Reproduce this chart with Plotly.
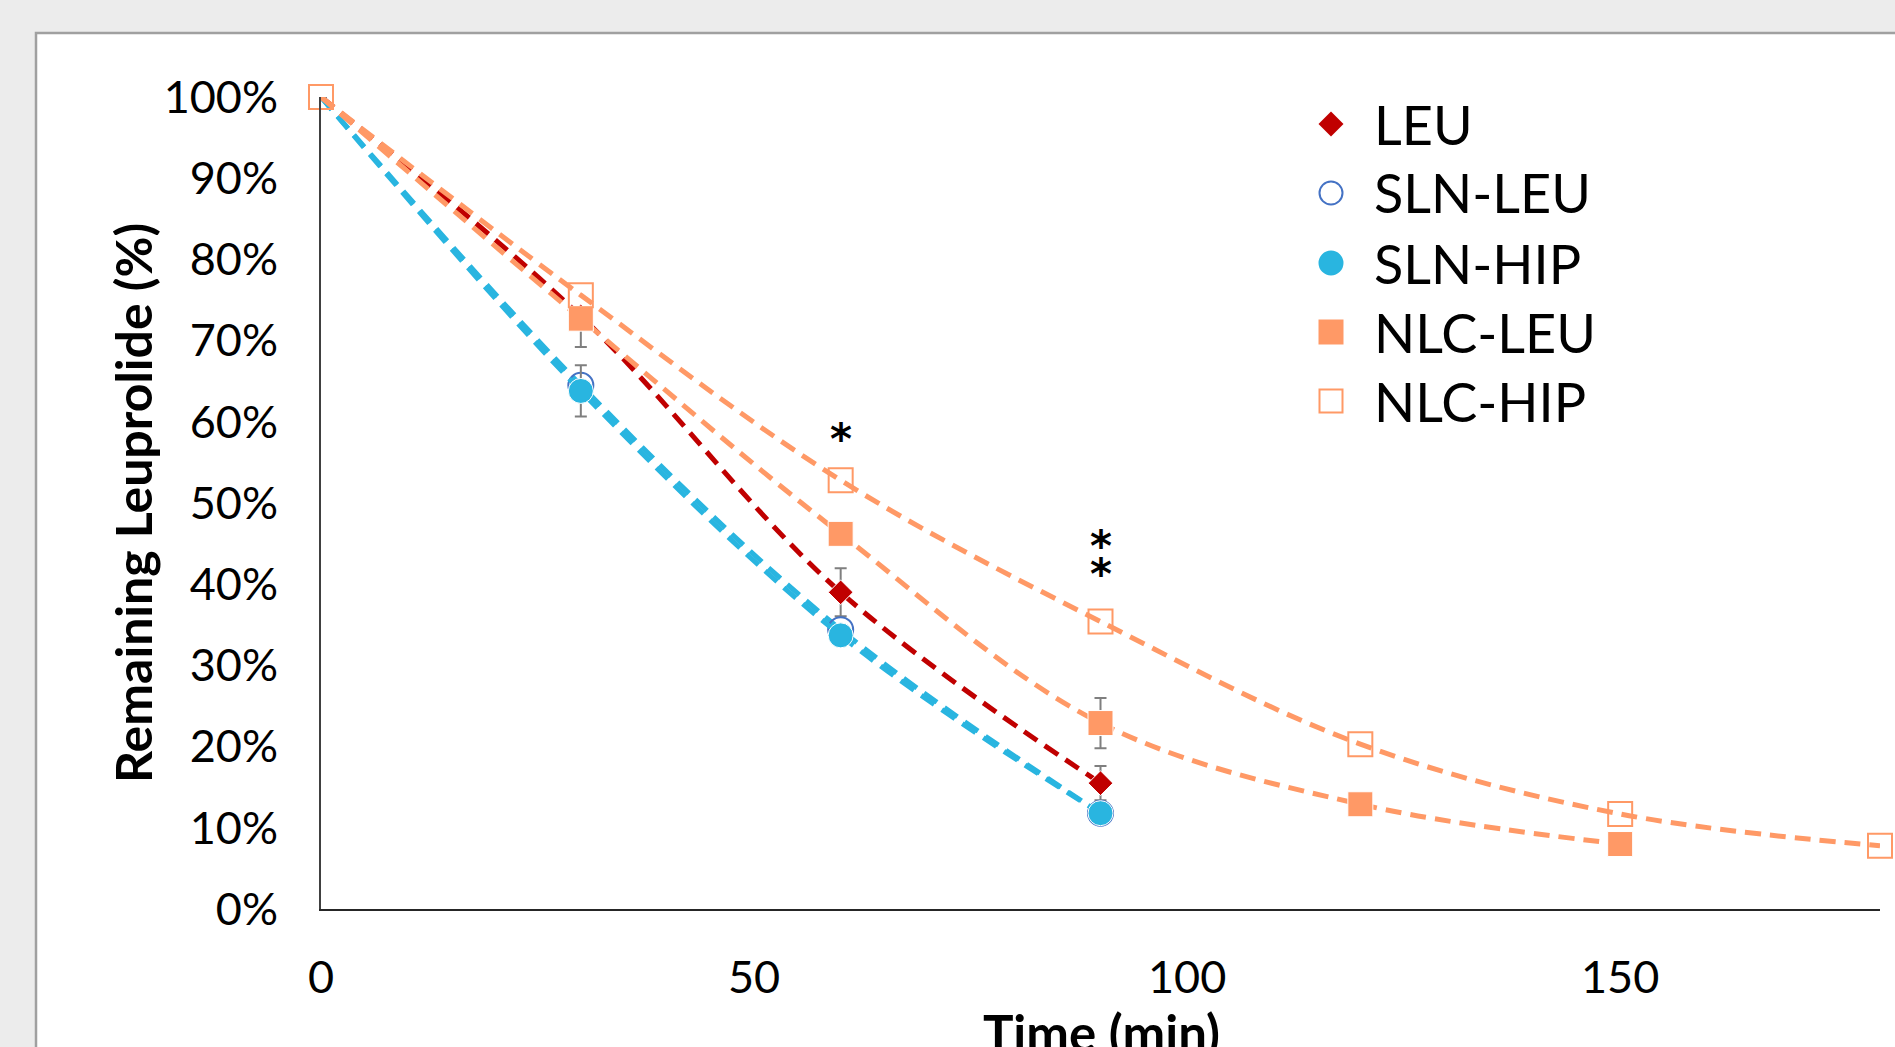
import plotly.graph_objects as go

# ---- data ---------------------------------------------------------------
time_short = [0, 30, 60, 90]
time_nlc_leu = [0, 30, 60, 90, 120, 150]
time_nlc_hip = [0, 30, 60, 90, 120, 150, 180]

leu = [100, 73.0, 39.0, 15.5]
leu_err = [0, 0, 2.95, 2.1]

sln_leu = [100, 64.5, 34.4, 11.8]

sln_hip = [100, 63.8, 33.7, 11.8]
sln_hip_err = [0, 3.15, 0, 0]

nlc_leu = [100, 72.7, 46.2, 22.9, 12.9, 8.0]
nlc_leu_err_plus = [0, 0, 0, 3.1, 0, 0]
nlc_leu_err_minus = [0, 3.5, 0, 3.1, 0, 0]

nlc_hip = [100, 75.6, 52.8, 35.4, 20.3, 11.7, 7.8]

series_names = ["LEU", "SLN-LEU", "SLN-HIP", "NLC-LEU", "NLC-HIP"]

# significance marks: (time, level, label)
sig_marks = [(60, 58.8, "*"), (90, 45.6, "*"), (90, 42.2, "*")]

x_ticks = [0, 50, 100, 150]
y_ticks = list(range(0, 101, 10))
y_tick_labels = [f"{v}%" for v in y_ticks]

# ---- styling ------------------------------------------------------------
W, H = 1895, 1047
L, R, T, B = 321, 1880, 97, 909  # plot area in pixels

RED = "#C00000"
BLUE = "#4472C4"
CYAN = "#29B5E0"
ORANGE = "#FF9966"
ERR = "#7F7F7F"
FONT = "Lato"
DASH = "16px,9px"
LW = 5


def px_x(x):
    return (x - L) / (R - L)


def px_y(y):
    return (B - y) / (B - T)


def sizes(n, s):
    # the shared starting point at t=0 carries only the NLC-HIP marker
    return [0] + [s] * (n - 1)


fig = go.Figure()


def add_series(x, y, name, line_color, marker, err=None):
    marker = dict(marker, opacity=1)
    fig.add_trace(go.Scatter(
        x=x, y=y, name=name, mode="lines+markers",
        line=dict(color=line_color, width=LW, dash=DASH, shape="spline", smoothing=1),
        marker=marker, error_y=err, cliponaxis=False, showlegend=False,
    ))


add_series(time_short, leu, series_names[0], RED,
           dict(symbol="diamond", size=sizes(len(leu), 19), color=RED),
           dict(type="data", array=leu_err, color=ERR, thickness=2, width=6))
add_series(time_short, sln_leu, series_names[1], CYAN,
           dict(symbol="circle-open", size=sizes(len(sln_leu), 25), color=BLUE,
                line=dict(width=2, color=BLUE)))
add_series(time_short, sln_hip, series_names[2], CYAN,
           dict(symbol="circle", size=sizes(len(sln_hip), 25), color=CYAN),
           dict(type="data", array=sln_hip_err, color=ERR, thickness=2, width=6))
add_series(time_nlc_leu, nlc_leu, series_names[3], ORANGE,
           dict(symbol="square", size=sizes(len(nlc_leu), 25), color=ORANGE),
           dict(type="data", symmetric=False, array=nlc_leu_err_plus,
                arrayminus=nlc_leu_err_minus, color=ERR, thickness=2, width=6))
add_series(time_nlc_hip, nlc_hip, series_names[4], ORANGE,
           dict(symbol="square-open", size=24, color=ORANGE, line=dict(width=2, color=ORANGE)))

shapes = []
annotations = []

# white chart panel with grey frame
shapes.append(dict(type="rect", xref="paper", yref="paper", layer="below",
                   x0=px_x(36), x1=px_x(W + 20), y0=px_y(33), y1=px_y(H + 20),
                   fillcolor="white", line=dict(color="#A0A0A0", width=2.5)))

# legend: keys drawn as shapes, labels as text
leg_cx = 1331
leg_rows = [124, 193, 263, 332, 401]
half = 12.5
for name, cy in zip(series_names, leg_rows):
    x0, x1 = px_x(leg_cx - half), px_x(leg_cx + half)
    y0, y1 = px_y(cy + half), px_y(cy - half)
    if name == "LEU":
        path = (f"M {px_x(leg_cx)} {px_y(cy - half)} L {px_x(leg_cx + half)} {px_y(cy)} "
                f"L {px_x(leg_cx)} {px_y(cy + half)} L {px_x(leg_cx - half)} {px_y(cy)} Z")
        shapes.append(dict(type="path", xref="paper", yref="paper", path=path,
                           fillcolor=RED, line=dict(width=0)))
    elif name == "SLN-LEU":
        shapes.append(dict(type="circle", xref="paper", yref="paper",
                           x0=px_x(leg_cx - 11.5), x1=px_x(leg_cx + 11.5),
                           y0=px_y(cy + 11.5), y1=px_y(cy - 11.5),
                           fillcolor="rgba(0,0,0,0)", line=dict(color=BLUE, width=2)))
    elif name == "SLN-HIP":
        shapes.append(dict(type="circle", xref="paper", yref="paper",
                           x0=x0, x1=x1, y0=y0, y1=y1,
                           fillcolor=CYAN, line=dict(width=0)))
    elif name == "NLC-LEU":
        shapes.append(dict(type="rect", xref="paper", yref="paper",
                           x0=x0, x1=x1, y0=y0, y1=y1,
                           fillcolor=ORANGE, line=dict(width=0)))
    else:
        shapes.append(dict(type="rect", xref="paper", yref="paper",
                           x0=px_x(leg_cx - 11.5), x1=px_x(leg_cx + 11.5),
                           y0=px_y(cy + 11.5), y1=px_y(cy - 11.5),
                           fillcolor="rgba(0,0,0,0)", line=dict(color=ORANGE, width=2)))
    annotations.append(dict(xref="paper", yref="paper", x=px_x(1372), y=px_y(cy),
                            xanchor="left", yanchor="middle", showarrow=False,
                            text=name, font=dict(family=FONT, size=54, color="black")))

# significance asterisks
for tx, lvl, lab in sig_marks:
    annotations.append(dict(x=tx, y=lvl, xref="x", yref="y", text=f"<b>{lab}</b>",
                            showarrow=False, xanchor="center", yanchor="middle", yshift=-8,
                            font=dict(family="DejaVu Sans", size=42, color="black")))

# axis titles
annotations.append(dict(xref="paper", yref="paper", x=px_x(133), y=px_y(503),
                        text="<b>Remaining Leuprolide (%)</b>", textangle=-90,
                        showarrow=False, xanchor="center", yanchor="middle",
                        font=dict(family=FONT, size=50, color="black")))
annotations.append(dict(xref="paper", yref="paper", x=px_x(1101), y=px_y(1000),
                        text="<b>Time (min)</b>", showarrow=False,
                        xanchor="center", yanchor="top",
                        font=dict(family=FONT, size=51, color="black")))

fig.update_layout(
    width=W, height=H,
    margin=dict(l=L, r=W - R, t=T, b=H - B, pad=0),
    paper_bgcolor="#ECECEC",
    plot_bgcolor="rgba(0,0,0,0)",
    showlegend=False,
    shapes=shapes,
    annotations=annotations,
    font=dict(family=FONT, color="black"),
)
fig.update_xaxes(range=[0, 180], tickvals=x_ticks, ticks="", showgrid=False,
                 zeroline=False, showline=True, linecolor="#262626", linewidth=2,
                 tickfont=dict(family=FONT, size=45, color="black"),
                 ticklabelstandoff=28)
fig.update_yaxes(range=[0, 100], tickvals=y_ticks, ticktext=y_tick_labels, ticks="",
                 showgrid=False, zeroline=False, showline=True,
                 linecolor="#404040", linewidth=2,
                 tickfont=dict(family=FONT, size=45, color="black"),
                 ticklabelstandoff=32)

fig.write_html("out.html")
